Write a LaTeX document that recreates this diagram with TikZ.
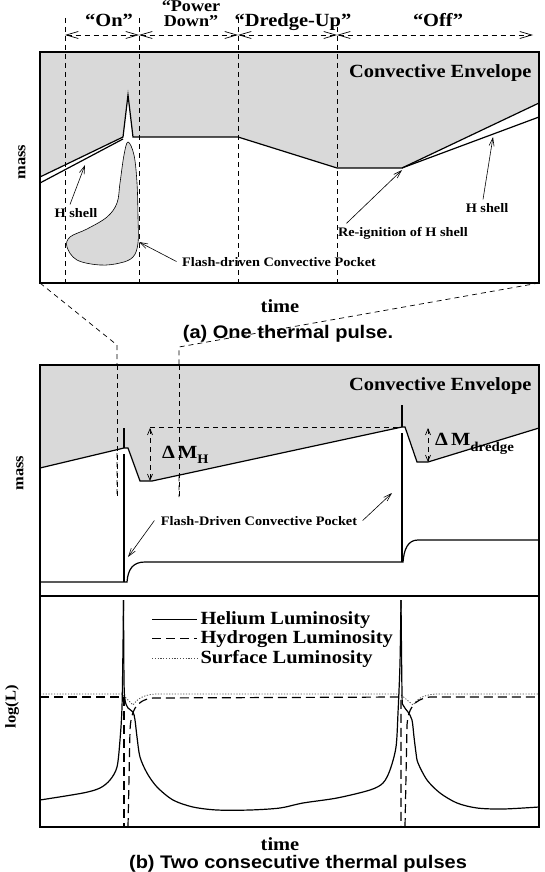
\documentclass[tikz,border=0pt]{standalone}
\usepackage{fontspec}
\setmainfont{Liberation Serif}[FakeStretch=1.1]
\setsansfont{Liberation Sans}[FakeStretch=1.1]
\usetikzlibrary{arrows.meta}
\usetikzlibrary{positioning}

\tikzset{
  frm/.style={line width=2.4pt},
  crv/.style={line width=1.2pt},
  fine/.style={line width=0.6pt},
  dsh/.style={line width=0.7pt,dash pattern=on 5pt off 4pt},
  hyd/.style={line width=1.2pt,dash pattern=on 9pt off 5pt},
  srf/.style={line width=0.8pt,black!70,dash pattern=on 1.2pt off 1.6pt},
  barb/.style={-{Straight Barb[length=8pt,width=5pt]}},
  phase/.style={dsh,{Straight Barb[length=12pt,width=7pt]}-{Straight Barb[length=12pt,width=7pt]}},
  dm/.style={dsh,{Straight Barb[length=6pt,width=5pt]}-{Straight Barb[length=6pt,width=5pt]}},
  lbl/.style={font=\fontsize{18.6}{20}\selectfont\bfseries},
  sml/.style={font=\fontsize{13}{15}\selectfont\bfseries},
  rot/.style={font=\fontsize{15}{17}\selectfont\bfseries,rotate=90},
  captxt/.style={font=\fontsize{18.2}{20}\selectfont\sffamily\bfseries},
}

\begin{document}
\begin{tikzpicture}[x=1pt,y=-1pt]
\useasboundingbox (0,0) rectangle (545,872);

% (a) one thermal pulse
\fill[gray!30] (40,52) -- (539,52) -- (539,103) -- (402,168) -- (337,168) -- (238,137) -- (133,137) -- (128,95) -- (123,137) -- (40,177) -- cycle;
\draw[fine,fill=gray!30] plot[smooth cycle,tension=0.6] coordinates {(128,142) (134,155) (137,183) (138,217) (138,243) (133,257) (120,263) (100,265) (77,260) (67,247) (70,237) (87,229) (107,217) (117,203) (120,183) (124,155)};
\foreach \t in {65,139,238,337} \draw[dsh] (\t,18) -- (\t,283);
\foreach \t [count=\i] in {65,139,238,337,533} \coordinate (p\i) at (\t,35);
\foreach \a/\b in {1/2,2/3,3/4,4/5} \draw[phase] (p\a) -- (p\b);
\draw[crv] (40,177) -- (123,137) -- (128,95) -- (133,137) -- (238,137) -- (337,168) -- (402,168) -- (539,103);
\draw[crv] (40,183) -- (123,139);
\draw[crv] (402,168) -- (539,117);
\draw[frm] (40,52) rectangle (539,283);

\node[lbl,anchor=base] (on) at (109,27) {“On”};
\node[font=\fontsize{16.5}{15}\selectfont\bfseries,align=center,anchor=south,inner sep=0pt] (pwr) at (191,27) {“Power\\Down”};
\node[lbl,anchor=base] (dredge) at (293,27) {“Dredge-Up”};
\node[lbl,anchor=base] (off) at (438,27) {“Off”};
\node[lbl,anchor=base east] (envA) at (535,78) {Convective Envelope};
\node[rot] (massA) at (22,162) {mass};

\coordinate (hsA) at (85,165);
\coordinate (pkA) at (139,242);
\coordinate (rigA) at (402,170);
\coordinate (hsB) at (493,137);
\node[sml,anchor=base] (hshellA) at (76,217) {H shell};
\node[sml,anchor=base] (pocketA) at (279,266) {Flash-driven Convective Pocket};
\node[sml,anchor=base] (reign) at (403,236) {Re-ignition of H shell};
\node[sml,anchor=base] (hshellB) at (487,212) {H shell};
\draw[fine,barb] ([xshift=-6pt]hshellA.north) -- (hsA);
\draw[fine,barb] ([xshift=-2pt]pocketA.west) -- (pkA);
\draw[fine,barb] ([xshift=12pt]reign.north west) -- (rigA);
\draw[fine,barb] ([xshift=-4pt]hshellB.north) -- (hsB);

\node[lbl,anchor=base] (timeA) at (280,312) {time};
\node[captxt,anchor=base] (capA) at (288,338) {(a) One thermal pulse.};

% zoom lines
\draw[dsh] (40,283) -- (117,345) -- (117,497);
\draw[dsh] (539,283) -- (179,347) -- (179,497);

% (b) two consecutive thermal pulses
\fill[gray!30] (40,365) -- (539,365) -- (539,428) -- (428,462) -- (417,462) -- (405,427) -- (402,427) -- (152,481) -- (140,481) -- (128,448) -- (124,448) -- (40,468) -- cycle;
\draw[dsh] (117,365) -- (117,497);
\draw[dsh] (179,365) -- (179,497);
\draw[dsh] (150,427) -- (402,427);
\draw[dm] (150,428) -- (150,481);
\draw[dm] (428,428) -- (428,462);
\draw[crv] (40,468) -- (124,448) -- (128,448) -- (140,481) -- (152,481) -- (402,427) -- (405,427) -- (417,462) -- (428,462) -- (539,428);
\draw[crv] (124,428) -- (124,448);
\draw[crv] (124,454) -- (124,582);
\draw[crv] (402,405) -- (402,427);
\draw[crv] (402,433) -- (402,562);
\draw[crv] (40,582) -- (127,582) .. controls (128,569) and (133,562) .. (145,562) -- (403,562) .. controls (404,549) and (408,540) .. (418,540) -- (539,540);

\node[lbl,anchor=base east] (envB) at (535,390) {Convective Envelope};
\node[rot] (massB) at (20,473) {mass};
\node[lbl,anchor=base west,inner sep=0pt] (dMH) at (162,458) {Δ\,M\raisebox{-5pt}{\fontsize{13}{13}\selectfont H}};
\node[lbl,anchor=base west,inner sep=0pt] (dMd) at (435,445) {Δ\,M\raisebox{-6pt}{\fontsize{13.5}{13}\selectfont dredge}};

\coordinate (pkB) at (128,557);
\coordinate (pkC) at (392,493);
\node[sml,anchor=base] (pocketB) at (259,525) {Flash-Driven Convective Pocket};
\draw[fine,barb] ([xshift=-3pt]pocketB.west) -- (pkB);
\draw[fine,barb] ([xshift=2pt]pocketB.east) -- (pkC);

% luminosities
\draw[srf] (40,694) -- (122,694) -- (133,705) .. controls (137,699) and (143,695) .. (155,694) -- (400,694) -- (413,705) .. controls (417,699) and (423,695) .. (435,694) -- (539,694);
\draw[hyd] (40,697) -- (124,697) -- (124,827);
\draw[hyd] (128,827) -- (130,730) .. controls (131,712) and (135,700) .. (153,698) -- (401,697) -- (401,827);
\draw[hyd] (405,827) -- (407,725) .. controls (408,710) and (413,699) .. (430,697) -- (539,697);
\draw[crv] plot[smooth,tension=0.5] coordinates {(40,800) (83,793) (100,788) (110,780) (117,767) (120,740) (122,707) (123,647) (123.5,600)};
\draw[crv] plot[smooth,tension=0.5] coordinates {(123.5,600) (124,680) (125,700) (128,708) (133,712) (135,720) (137,737) (140,757) (147,773) (157,787) (173,800) (193,807) (217,810) (250,810) (280,808) (303,803) (337,798) (370,790) (383,783) (390,770) (396,747) (398,713) (400,663) (401,600)};
\draw[crv] plot[smooth,tension=0.5] coordinates {(401,600) (402,693) (403,705) (408,712) (412,720) (414,737) (416,753) (418,763) (427,780) (440,793) (457,803) (477,808) (503,809) (539,807)};

\node[lbl,anchor=base west] (leg1) at (197,624) {Helium Luminosity};
\node[lbl,anchor=base west] (leg2) at (197,643) {Hydrogen Luminosity};
\node[lbl,anchor=base west] (leg3) at (197,663) {Surface Luminosity};
\draw[crv] ([xshift=-45pt]leg1.west) -- (leg1.west);
\draw[hyd] ([xshift=-45pt]leg2.west) -- (leg2.west);
\draw[srf] ([xshift=-45pt]leg3.west) -- (leg3.west);
\node[rot] (logL) at (12,707) {log(L)};

\draw[frm] (40,365) rectangle (539,827);
\draw[frm] (40,596) -- (539,596);

\node[lbl,anchor=base] (timeB) at (280,850) {time};
\node[captxt,anchor=base] (capB) at (298,868) {(b) Two consecutive thermal pulses};

\end{tikzpicture}
\end{document}
